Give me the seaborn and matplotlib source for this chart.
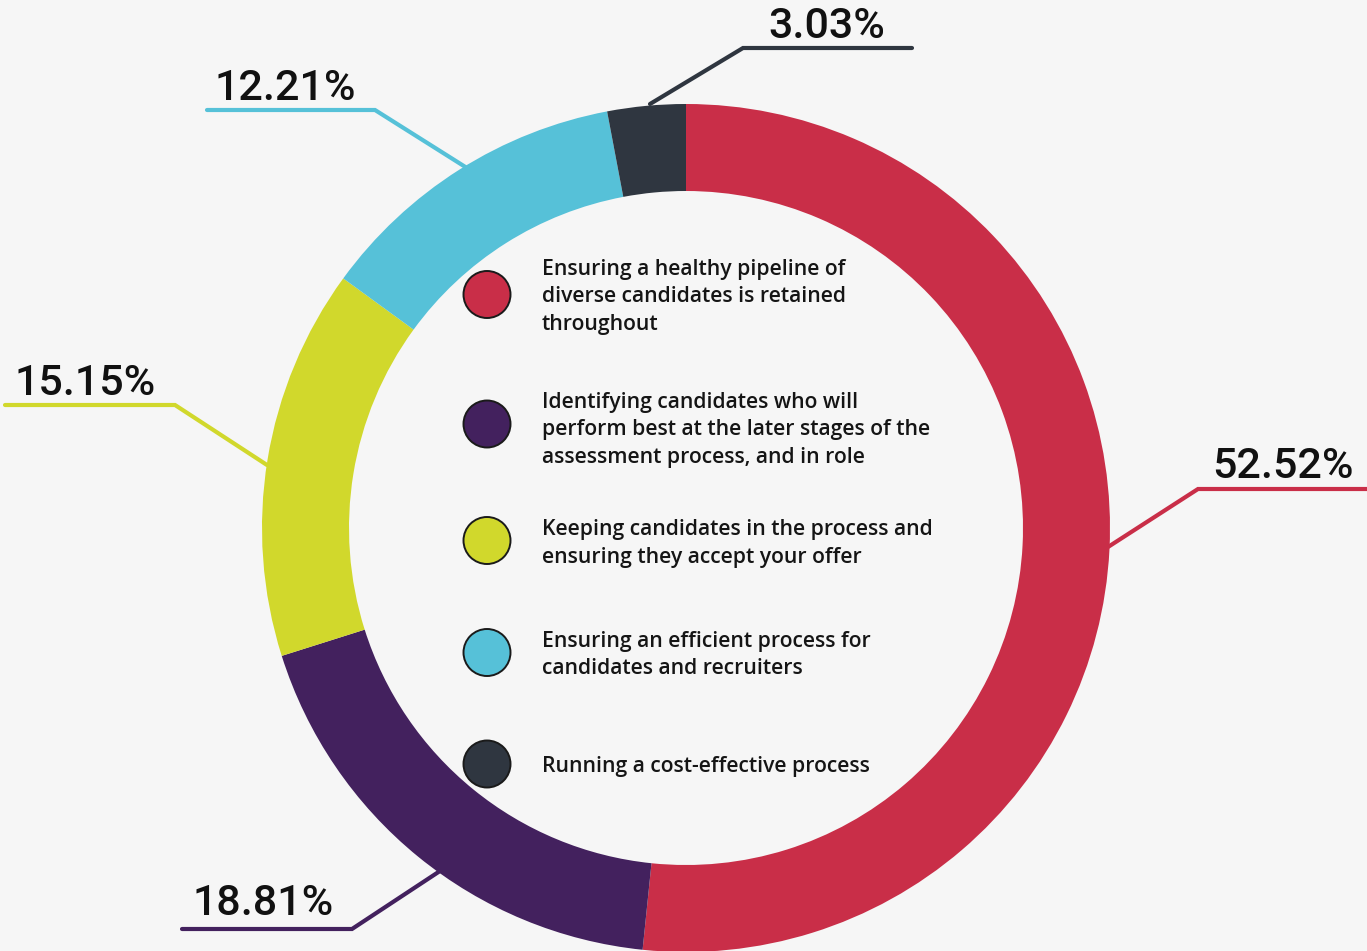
import matplotlib
matplotlib.use("Agg")
import matplotlib.pyplot as plt
from matplotlib.patches import Circle
import seaborn as sns

# ---- data ----
categories = [
    "Ensuring a healthy pipeline of\ndiverse candidates is retained\nthroughout",
    "Identifying candidates who will\nperform best at the later stages of the\nassessment process, and in role",
    "Keeping candidates in the process and\nensuring they accept your offer",
    "Ensuring an efficient process for\ncandidates and recruiters",
    "Running a cost-effective process",
]
values = [52.52, 18.81, 15.15, 12.21, 3.03]
pct_labels = ["52.52%", "18.81%", "15.15%", "12.21%", "3.03%"]
colors = ["#C92E48", "#43215E", "#D1D82C", "#56C1D8", "#2F3640"]

# ---- layout (pixel coordinates) ----
W, H = 1367, 951
center = (686, 528)
r_out, ring_w = 424, 87
leaders = [
    [(1108, 547), (1198, 489), (1367, 489)],
    [(440, 871), (352, 929), (182, 929)],
    [(267, 465), (175, 405), (5, 405)],
    [(467, 168), (375, 110), (207, 110)],
    [(650, 104), (743, 48), (912, 48)],
]
label_pos = [(1212, 478), (193, 915), (15, 395), (215, 100), (768, 38)]
legend_cx = 487
legend_cy = [294.5, 424, 540.5, 652.5, 764]
legend_base = [275, 408, 535, 647, 772]
legend_tx = 542
line_step = 27.5

sns.set_theme(style="white")
plt.rcParams["font.family"] = ["Roboto", "DejaVu Sans"]

bg = "#F6F6F6"
fig = plt.figure(figsize=(W / 100, H / 100), dpi=100, facecolor=bg)
ax = fig.add_axes([0, 0, 1, 1])
ax.set_facecolor(bg)

palette = sns.color_palette(colors)
ax.pie(values, colors=palette, startangle=-90, counterclock=True,
       center=center, radius=r_out,
       wedgeprops=dict(width=ring_w, linewidth=0))

ax.set_xlim(0, W)
ax.set_ylim(H, 0)
ax.set_aspect("equal")
ax.axis("off")

for pts, c in zip(leaders, palette):
    xs = [p[0] for p in pts]
    ys = [p[1] for p in pts]
    ax.plot(xs, ys, color=c, lw=3.0, solid_capstyle="round",
            solid_joinstyle="miter", zorder=3)

for (x, y), lab in zip(label_pos, pct_labels):
    ax.text(x, y, lab, fontsize=31, fontweight="medium", color="#111111",
            ha="left", va="baseline", zorder=4)

for cy, base, lab, c in zip(legend_cy, legend_base, categories, palette):
    ax.add_patch(Circle((legend_cx, cy), 23.5, facecolor=c,
                        edgecolor="#1a1a1a", lw=1.4, zorder=4))
    for i, line in enumerate(lab.split("\n")):
        ax.text(legend_tx, base + i * line_step, line, fontsize=15.2,
                family=["Open Sans", "DejaVu Sans"], fontweight="semibold",
                color="#151515", ha="left", va="baseline", zorder=4)

fig.savefig("out.png", dpi=100, facecolor=bg)
